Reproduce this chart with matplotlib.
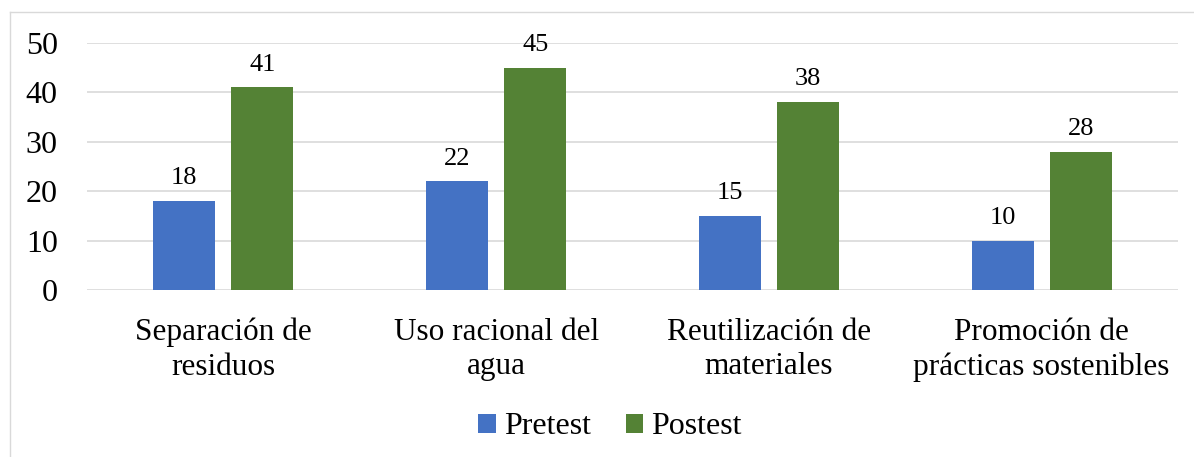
import matplotlib
import numpy as np
from matplotlib import pyplot as plt
from matplotlib.lines import Line2D

matplotlib.use("Agg")

categories = [
    "Separación de\nresiduos",
    "Uso racional del\nagua",
    "Reutilización de\nmateriales",
    "Promoción de\nprácticas sostenibles",
]
pretest = [18, 22, 15, 10]
postest = [41, 45, 38, 28]
series_names = ["Pretest", "Postest"]
y_ticks = [0, 10, 20, 30, 40, 50]

BLUE = "#4472C4"
GREEN = "#548235"

plt.rcParams["font.family"] = ["Liberation Serif", "DejaVu Serif"]

fig = plt.figure(figsize=(11.94, 4.57), dpi=100)
ax = fig.add_axes([87 / 1194, 1 - 290 / 457, (1178 - 87) / 1194, (290 - 43) / 457])

x = np.arange(len(categories))
width = 0.227
offset = 0.143
bars_pre = ax.bar(x - offset, pretest, width, color=BLUE, label=series_names[0], zorder=3)
bars_post = ax.bar(x + offset, postest, width, color=GREEN, label=series_names[1], zorder=3)

for bars in (bars_pre, bars_post):
    for b in bars:
        ax.annotate(
            f"{b.get_height():g}",
            (b.get_x() + b.get_width() / 2, b.get_height()),
            xytext=(0, 8.5),
            textcoords="offset points",
            ha="center",
            va="bottom",
            fontsize=19,
        )

ax.set_xlim(-0.5, len(categories) - 0.5)
ax.set_ylim(0, 50)
ax.set_yticks(y_ticks)
ax.set_xticks(x)
ax.set_xticklabels(categories, fontsize=22.5, linespacing=1.25)
ax.tick_params(axis="y", labelsize=23, length=0, pad=21)
ax.tick_params(axis="x", length=0, pad=20)
ax.grid(axis="y", color="#D9D9D9", linewidth=1.2, zorder=0)
for side in ("left", "right", "top", "bottom"):
    ax.spines[side].set_visible(False)

fig.legend(
    handles=[bars_pre, bars_post],
    labels=series_names,
    loc="center",
    bbox_to_anchor=(610 / 1194, 1 - 427 / 457),
    ncol=2,
    frameon=False,
    fontsize=23,
    handlelength=0.55,
    handleheight=0.55,
    handletextpad=0.25,
    columnspacing=1.1,
)

# chart area border (left and top edges visible)
fig.add_artist(Line2D([10 / 1194, 10 / 1194], [0, 1 - 12 / 457], transform=fig.transFigure, color="#D9D9D9", linewidth=1))
fig.add_artist(Line2D([10 / 1194, 1], [1 - 12 / 457, 1 - 12 / 457], transform=fig.transFigure, color="#D9D9D9", linewidth=1))

fig.savefig("out.png", dpi=100)
